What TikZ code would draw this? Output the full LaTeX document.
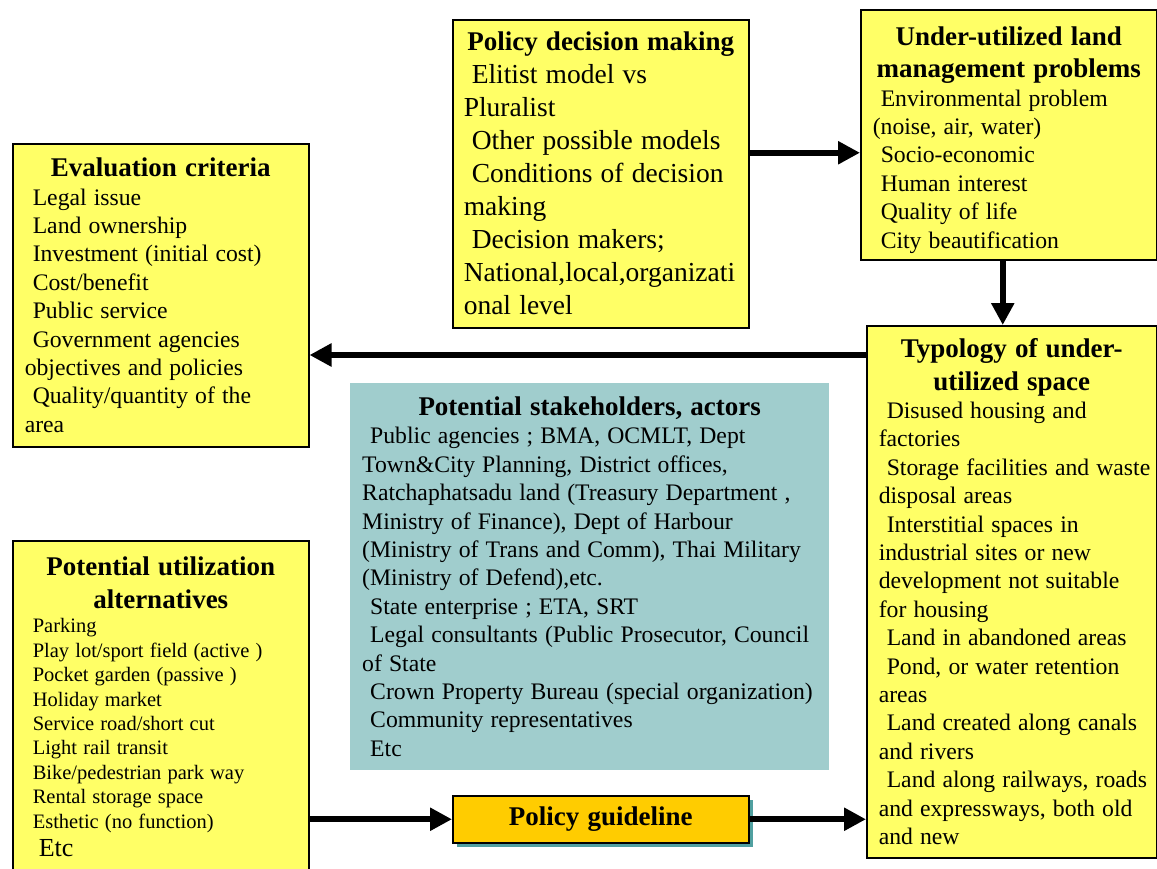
\documentclass[tikz,border=0pt]{standalone}
\usepackage{fontspec}
\setmainfont{Liberation Serif}
\usetikzlibrary{positioning,arrows.meta,shadows}
\definecolor{boxyellow}{RGB}{255,255,102}
\definecolor{boxteal}{RGB}{160,205,205}
\definecolor{boxgold}{RGB}{255,204,0}
\definecolor{shadowteal}{RGB}{80,160,160}
\newcommand{\wsp}{\spaceskip=0.3em plus 0.1em minus 0.05em\relax}
\newcommand{\ttl}{\fontsize{27}{32.5}\selectfont\bfseries\wsp}
\newcommand{\bdy}{\fontsize{23.7}{28.4}\selectfont\wsp}
\newcommand{\bdybig}{\fontsize{27.5}{33}\selectfont\wsp}
\newcommand{\sml}{\fontsize{20.5}{24.4}\selectfont\wsp}
\newcommand{\itm}{\hspace*{8pt}}

\begin{document}
\begin{tikzpicture}[x=1pt,y=-1pt,
		yellowbox/.style={draw=black,line width=1.5pt,fill=boxyellow,anchor=north west,inner xsep=12pt,inner ysep=0pt,align=left},
		tealbox/.style={fill=boxteal,anchor=north west,inner xsep=12pt,inner ysep=0pt,align=left},
		goldbox/.style={draw=black,line width=1.5pt,fill=boxgold,anchor=north west,inner sep=0pt,align=center,
			general shadow={fill=shadowteal,shadow xshift=4pt,shadow yshift=-4pt}},
		flowarrow/.style={line width=6pt,-{Triangle[length=22pt,width=22pt]}}]
	\useasboundingbox (0,0) rectangle (1157,868);

	\node[yellowbox,text width=272pt,minimum height=303pt] (eval) at (12,143) {%
		{\centering\ttl Evaluation criteria\par}
		\bdy\itm Legal issue\\
		\itm Land ownership\\
		\itm Investment (initial cost)\\
		\itm Cost/benefit\\
		\itm Public service\\
		\itm Government agencies\\
		objectives and policies\\
		\itm Quality/quantity of the\\
		area\par};

	\node[yellowbox,inner xsep=11pt,text width=274pt,minimum height=308pt] (decision) at (452,19) {%
		{\centering\ttl Policy decision making\par}
		\bdybig\itm Elitist model vs\\
		Pluralist\\
		\itm Other possible models\\
		\itm Conditions of decision\\
		making\\
		\itm Decision makers;\\
		\mbox{National,local,organizati}\\
		onal level\par};

	\node[yellowbox,text width=272pt,minimum height=250pt] (problems) at (860,9) {%
		{\centering\ttl\rule{0pt}{29pt}Under-utilized land\\management problems\par}
		\bdy\itm Environmental problem\\
		(noise, air, water)\\
		\itm Socio-economic\\
		\itm Human interest\\
		\itm Quality of life\\
		\itm City beautification\par};

	\node[yellowbox,text width=266pt,minimum height=532pt] (typology) at (866,325) {%
		{\centering\ttl Typology of under-\\utilized space\par}
		\bdy\itm Disused housing and\\
		factories\\
		\itm \mbox{Storage facilities and waste}\\
		disposal areas\\
		\itm Interstitial spaces in\\
		industrial sites or new\\
		development not suitable\\
		for housing\\
		\itm Land in abandoned areas\\
		\itm Pond, or water retention\\
		areas\\
		\itm \mbox{Land created along canals}\\
		and rivers\\
		\itm \mbox{Land along railways, roads}\\
		\mbox{and expressways, both old}\\
		and new\par};

	\node[tealbox,text width=455pt,minimum height=387pt] (stake) at (350,383) {%
		{\centering\ttl Potential stakeholders, actors\par}
		\bdy\itm Public agencies ; BMA, OCMLT, Dept\\
		Town\&City Planning, District offices,\\
		Ratchaphatsadu land (Treasury Department ,\\
		Ministry of Finance), Dept of Harbour\\
		(Ministry of Trans and Comm), Thai Military\\
		(Ministry of Defend),etc.\\
		\itm State enterprise ; ETA, SRT\\
		\itm \mbox{Legal consultants (Public Prosecutor, Council}\\
		of State\\
		\itm \mbox{Crown Property Bureau (special organization)}\\
		\itm Community representatives\\
		\itm Etc\par};

	\node[yellowbox,text width=272pt,minimum height=332pt] (util) at (12,540) {%
		{\centering\ttl Potential utilization\\alternatives\par}
		\sml\itm Parking\\
		\itm Play lot/sport field (active )\\
		\itm Pocket garden (passive )\\
		\itm Holiday market\\
		\itm Service road/short cut\\
		\itm Light rail transit\\
		\itm Bike/pedestrian park way\\
		\itm Rental storage space\\
		\itm Esthetic (no function)\par
		{\fontsize{26}{28}\selectfont\hspace*{14pt}Etc\par}};

	\node[goldbox,minimum width=296pt,minimum height=47pt] (guide) at (452,795) {\ttl Policy guideline};

	\coordinate (d1) at ([yshift=21pt]decision.east);
	\coordinate (p1) at ([xshift=-6pt]problems.south);
	\coordinate (t1) at ([yshift=-30pt]typology.north west);

	\draw[flowarrow] (d1) -- (d1 -| problems.west);
	\draw[flowarrow] (p1) -- (p1 |- typology.north);
	\draw[flowarrow] (t1) -- (t1 -| eval.east);
	\draw[flowarrow] (util.east |- guide.west) -- (guide.west);
	\draw[flowarrow] (guide.east) -- (guide.east -| typology.west);
\end{tikzpicture}
\end{document}
